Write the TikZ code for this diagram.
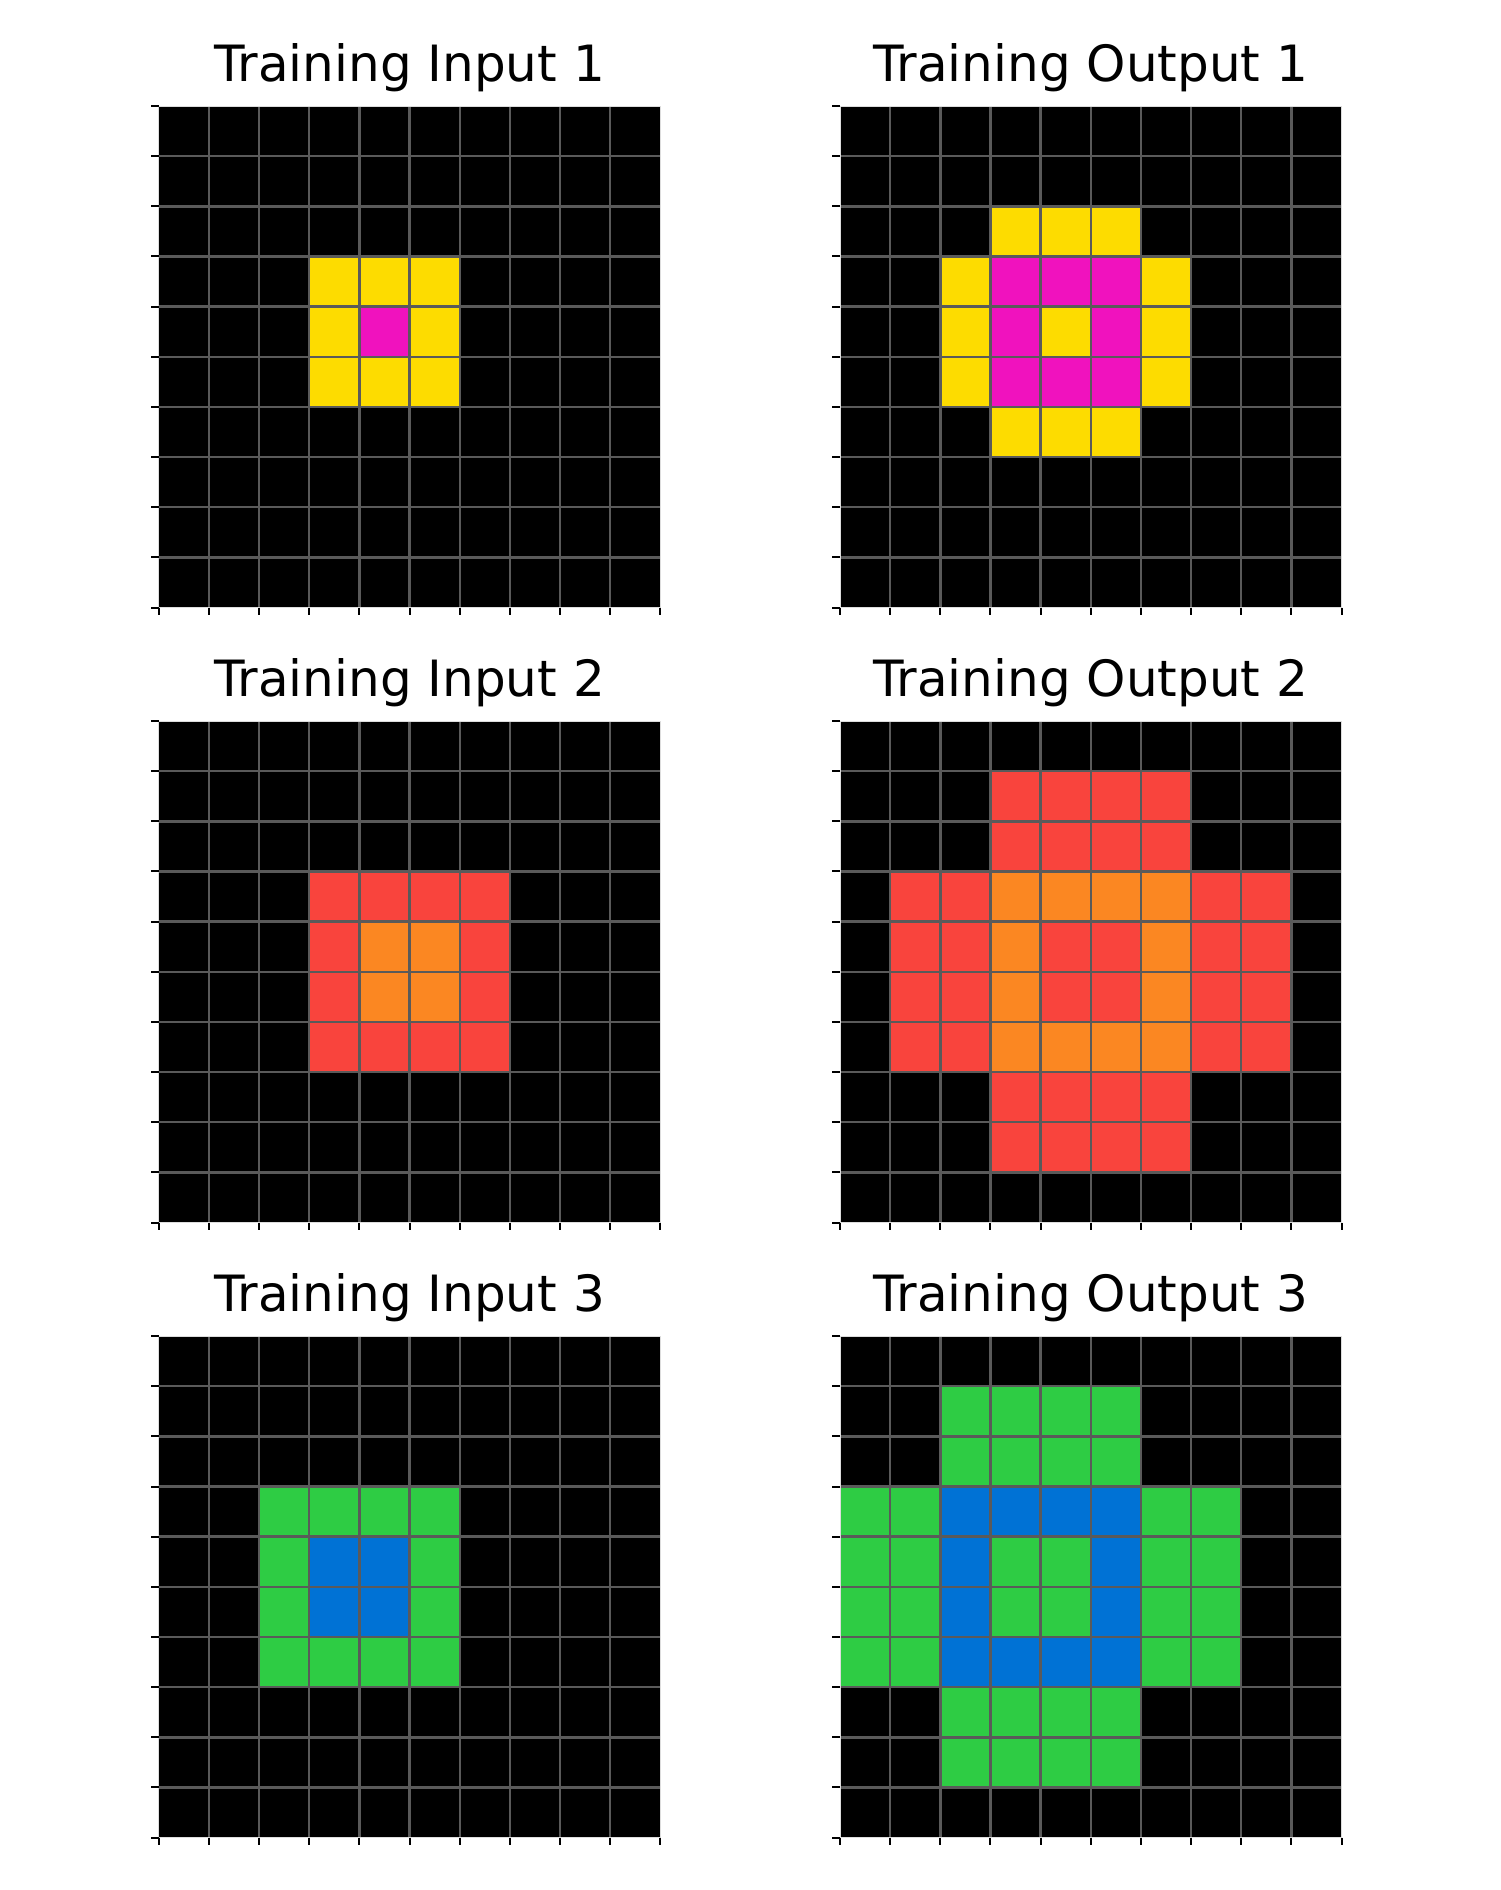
\documentclass[tikz,border=0pt]{standalone}
\usepackage{fontspec}
\setmainfont{DejaVu Sans}
\definecolor{arcyellow}{HTML}{FDDC00}
\definecolor{arcmagenta}{HTML}{F012BE}
\definecolor{arcred}{HTML}{F9443D}
\definecolor{arcorange}{HTML}{FB8722}
\definecolor{arcgreen}{HTML}{2ECC44}
\definecolor{arcblue}{HTML}{0072D5}
\definecolor{gridgrey}{HTML}{5A5A5A}
\definecolor{spinegrey}{HTML}{DDDDDD}
\tikzset{
  gridline/.style={draw=gridgrey, line width=1.2pt},
  spine/.style={draw=spinegrey, line width=0.5pt},
  tickmark/.style={draw=black, line width=1pt},
  paneltitle/.style={anchor=base, font=\fontsize{25}{30}\selectfont, inner sep=0pt},
}
\newcommand{\panelframe}{%
  \fill[black] (0,0) rectangle (10,10);
}
\newcommand{\panelgrid}{%
  \foreach \i in {1,...,9} {
    \draw[gridline] (\i,0) -- (\i,10);
    \draw[gridline] (0,\i) -- (10,\i);
  }
  \draw[spine] (0,0) rectangle (10,10);
  \foreach \i in {0,...,10} {
    \draw[tickmark] (0,\i) -- ++(-0.15,0);
    \draw[tickmark] (\i,10) -- ++(0,0.15);
  }
}
\begin{document}
\begin{tikzpicture}[x=0.5pt,y=-0.5pt]
\useasboundingbox (0,0) rectangle (1500,1890);
\fill[white] (0,0) rectangle (1500,1890);

% titles
\node[paneltitle] (t1) at (409.6,81.5) {Training Input 1};
\node[paneltitle] (t2) at (1090.8,81.5) {Training Output 1};
\node[paneltitle] (t3) at (409.6,696.3) {Training Input 2};
\node[paneltitle] (t4) at (1090.8,696.3) {Training Output 2};
\node[paneltitle] (t5) at (409.6,1311) {Training Input 3};
\node[paneltitle] (t6) at (1090.8,1311) {Training Output 3};

% Input 1
\begin{scope}[shift={(158.8,106)}, x=25.08pt, y=-25.08pt]
  \panelframe
  \fill[arcyellow] (3,3) rectangle (6,6);
  \fill[arcmagenta] (4,4) rectangle (5,5);
  \panelgrid
\end{scope}

% Output 1
\begin{scope}[shift={(840,106)}, x=25.08pt, y=-25.08pt]
  \panelframe
  \fill[arcyellow] (3,2) rectangle (6,7);
  \fill[arcyellow] (2,3) rectangle (7,6);
  \fill[arcmagenta] (3,3) rectangle (6,6);
  \fill[arcyellow] (4,4) rectangle (5,5);
  \panelgrid
\end{scope}

% Input 2
\begin{scope}[shift={(158.8,721)}, x=25.08pt, y=-25.08pt]
  \panelframe
  \fill[arcred] (3,3) rectangle (7,7);
  \fill[arcorange] (4,4) rectangle (6,6);
  \panelgrid
\end{scope}

% Output 2
\begin{scope}[shift={(840,721)}, x=25.08pt, y=-25.08pt]
  \panelframe
  \fill[arcred] (3,1) rectangle (7,9);
  \fill[arcred] (1,3) rectangle (9,7);
  \fill[arcorange] (3,3) rectangle (7,7);
  \fill[arcred] (4,4) rectangle (6,6);
  \panelgrid
\end{scope}

% Input 3
\begin{scope}[shift={(158.8,1336)}, x=25.08pt, y=-25.08pt]
  \panelframe
  \fill[arcgreen] (2,3) rectangle (6,7);
  \fill[arcblue] (3,4) rectangle (5,6);
  \panelgrid
\end{scope}

% Output 3
\begin{scope}[shift={(840,1336)}, x=25.08pt, y=-25.08pt]
  \panelframe
  \fill[arcgreen] (2,1) rectangle (6,9);
  \fill[arcgreen] (0,3) rectangle (8,7);
  \fill[arcblue] (2,3) rectangle (6,7);
  \fill[arcgreen] (3,4) rectangle (5,6);
  \panelgrid
\end{scope}
\end{tikzpicture}
\end{document}
